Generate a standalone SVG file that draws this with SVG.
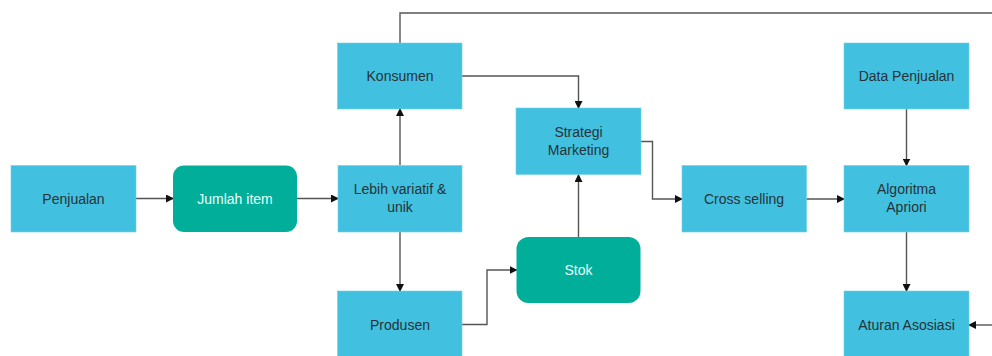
<svg xmlns="http://www.w3.org/2000/svg" width="992" height="356" viewBox="0 0 992 356">
<defs>
<marker id="ah" markerWidth="8" markerHeight="8" refX="7" refY="4" orient="auto" markerUnits="userSpaceOnUse">
<path d="M0,0 L8,4 L0,8 z" fill="#111"/>
</marker>
<style>
.b{fill:#41C1DF;stroke:#6FD0E8;stroke-width:0.6}
.t{fill:#00AE9A}
.lb{font-family:"Liberation Sans",Arial,sans-serif;font-size:14px;fill:#263238;text-anchor:middle}
.lw{font-family:"Liberation Sans",Arial,sans-serif;font-size:14px;fill:#E8FFFA;text-anchor:middle}
.c{fill:none;stroke:#555;stroke-width:1.4;marker-end:url(#ah)}
.cn{fill:none;stroke:#555;stroke-width:1.4}
</style>
</defs>
<rect width="992" height="356" fill="#fff"/>
<g id="connectors">
<path class="cn" d="M400,43 V13 H992"/>
<path class="c" d="M136,198.5 H173"/>
<path class="c" d="M297,198.5 H338"/>
<path class="c" d="M400,165 V109"/>
<path class="c" d="M400,232 V291"/>
<path class="c" d="M462,76 H578.5 V108"/>
<path class="c" d="M462,324.5 H487 V270 H516.5"/>
<path class="c" d="M578.5,237 V175"/>
<path class="c" d="M641,141.5 H652.5 V199 H682"/>
<path class="c" d="M806,199 H844"/>
<path class="c" d="M906.5,109 V165.5"/>
<path class="c" d="M906.5,232 V291"/>
<path class="c" d="M992,325 H969"/>
</g>
<g id="penjualan"><rect class="b" x="11" y="165.5" width="125" height="66.5"/><text class="lb" x="73.5" y="203.5">Penjualan</text></g>
<g id="jumlah-item"><rect class="t" x="173" y="165.5" width="124" height="66.5" rx="11"/><text class="lw" x="235" y="203.5">Jumlah item</text></g>
<g id="lebih-variatif"><rect class="b" x="338" y="165.5" width="124" height="66.5"/><text class="lb" x="400" y="194">Lebih variatif &amp;</text><text class="lb" x="400" y="212">unik</text></g>
<g id="konsumen"><rect class="b" x="337.5" y="43" width="124.5" height="66"/><text class="lb" x="400" y="81">Konsumen</text></g>
<g id="produsen"><rect class="b" x="337.5" y="291" width="124.5" height="67"/><text class="lb" x="400" y="329.5">Produsen</text></g>
<g id="strategi-marketing"><rect class="b" x="516" y="108" width="125" height="66.5"/><text class="lb" x="578.5" y="137">Strategi</text><text class="lb" x="578.5" y="155">Marketing</text></g>
<g id="stok"><rect class="t" x="516.5" y="237" width="124" height="66" rx="12"/><text class="lw" x="578.5" y="275">Stok</text></g>
<g id="cross-selling"><rect class="b" x="682" y="165.5" width="124.5" height="66.5"/><text class="lb" x="744" y="203.5">Cross selling</text></g>
<g id="algoritma-apriori"><rect class="b" x="844" y="165.5" width="125" height="66.5"/><text class="lb" x="906.5" y="194">Algoritma</text><text class="lb" x="906.5" y="212">Apriori</text></g>
<g id="data-penjualan"><rect class="b" x="844" y="43" width="125" height="66"/><text class="lb" x="906.5" y="81">Data Penjualan</text></g>
<g id="aturan-asosiasi"><rect class="b" x="844" y="291" width="125" height="67"/><text class="lb" x="906.5" y="330">Aturan Asosiasi</text></g>
</svg>
